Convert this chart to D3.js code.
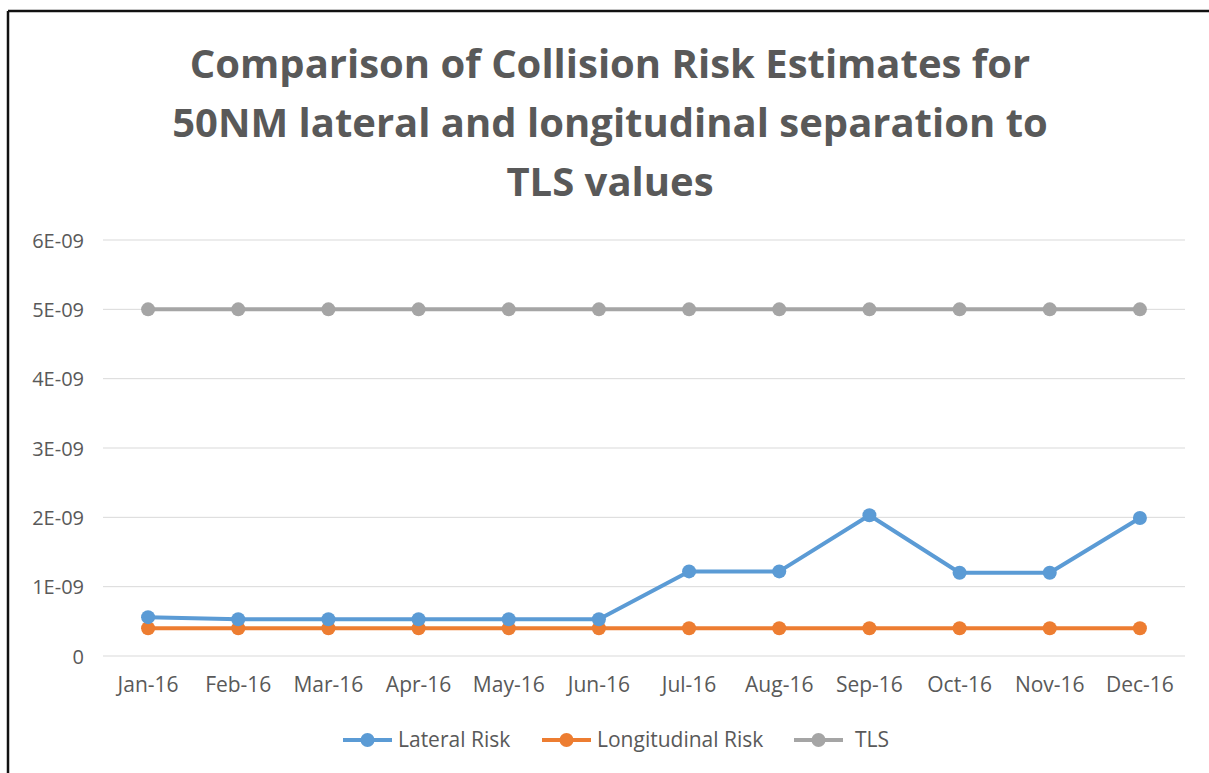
<!DOCTYPE html>
<html>
<head>
<meta charset="utf-8">
<title>Collision Risk Estimates</title>
<script src="https://cdn.jsdelivr.net/npm/d3@7"></script>
<style>
  body { margin: 0; background: #fff; }
  text { font-family: "Open Sans", "Liberation Sans", sans-serif; fill: #595959; }
</style>
</head>
<body>
<svg width="1209" height="773"></svg>
<script>
// data
var months = ["Jan-16","Feb-16","Mar-16","Apr-16","May-16","Jun-16","Jul-16","Aug-16","Sep-16","Oct-16","Nov-16","Dec-16"];
var lateralRisk = [0.56e-9,0.53e-9,0.53e-9,0.53e-9,0.53e-9,0.53e-9,1.22e-9,1.22e-9,2.03e-9,1.2e-9,1.2e-9,1.99e-9];
var longitudinalRisk = [0.4e-9,0.4e-9,0.4e-9,0.4e-9,0.4e-9,0.4e-9,0.4e-9,0.4e-9,0.4e-9,0.4e-9,0.4e-9,0.4e-9];
var tls = [5e-9,5e-9,5e-9,5e-9,5e-9,5e-9,5e-9,5e-9,5e-9,5e-9,5e-9,5e-9];
var yTicks = [0,1e-9,2e-9,3e-9,4e-9,5e-9,6e-9];
var yTickLabels = ["0","1E-09","2E-09","3E-09","4E-09","5E-09","6E-09"];
var titleLines = ["Comparison of Collision Risk Estimates for","50NM lateral and longitudinal separation to","TLS values"];

var series = [
  {name: "Lateral Risk", values: lateralRisk, color: "#5b9bd5"},
  {name: "Longitudinal Risk", values: longitudinalRisk, color: "#ed7d31"},
  {name: "TLS", values: tls, color: "#a5a5a5"}
];

var svg = d3.select("svg");

// frame (only top and left edges show in the picture)
svg.append("line").attr("x1", 8).attr("y1", 11).attr("x2", 1209).attr("y2", 11)
   .attr("stroke", "#111").attr("stroke-width", 2.5);
svg.append("line").attr("x1", 8).attr("y1", 11).attr("x2", 8).attr("y2", 773)
   .attr("stroke", "#111").attr("stroke-width", 2.5);

// title
svg.append("g").selectAll("text")
  .data(titleLines)
  .enter().append("text")
    .attr("x", 610)
    .attr("y", function(d, i) { return 78 + i * 59; })
    .attr("text-anchor", "middle")
    .style("font-size", "40px")
    .style("font-weight", "bold")
    .text(function(d) { return d; });

var x = d3.scaleBand().domain(months).range([103, 1185]);
var y = d3.scaleLinear().domain([0, 6e-9]).range([656, 240]);

// gridlines
svg.append("g").selectAll("line")
  .data(yTicks)
  .enter().append("line")
    .attr("x1", 103).attr("x2", 1185)
    .attr("y1", function(d) { return y(d); })
    .attr("y2", function(d) { return y(d); })
    .attr("stroke", "#d9d9d9").attr("stroke-width", 1);

// y axis labels
var yAxis = d3.axisLeft(y).tickValues(yTicks)
  .tickFormat(function(d, i) { return yTickLabels[i]; })
  .tickSize(0).tickPadding(0);
var gy = svg.append("g").attr("transform", "translate(84,0)").call(yAxis);
gy.select(".domain").remove();
gy.selectAll("text").attr("dy", "0.35em")
  .style("font-size", "20px").style("fill", "#595959")
  .style("font-family", "'Open Sans', sans-serif");

// x axis labels
var xAxis = d3.axisBottom(x).tickSize(0).tickPadding(0);
var gx = svg.append("g").attr("transform", "translate(0,677)").call(xAxis);
gx.select(".domain").remove();
gx.selectAll("text").attr("dy", "0.71em")
  .style("font-size", "21px").style("fill", "#595959")
  .style("font-family", "'Open Sans', sans-serif");

var line = d3.line()
  .x(function(d, i) { return x(months[i]) + x.bandwidth() / 2; })
  .y(function(d) { return y(d); });

// draw TLS first, then longitudinal, then lateral on top
var order = [series[2], series[1], series[0]];
order.forEach(function(s) {
  svg.append("path")
    .datum(s.values)
    .attr("d", line)
    .attr("fill", "none")
    .attr("stroke", s.color)
    .attr("stroke-width", 4)
    .attr("stroke-linejoin", "round");
  svg.append("g").selectAll("circle")
    .data(s.values)
    .enter().append("circle")
      .attr("cx", function(d, i) { return x(months[i]) + x.bandwidth() / 2; })
      .attr("cy", function(d) { return y(d); })
      .attr("r", 7)
      .attr("fill", s.color);
});

// legend
var legendX = [343, 542, 794];
var legend = svg.append("g").selectAll("g")
  .data(series)
  .enter().append("g")
    .attr("transform", function(d, i) { return "translate(" + legendX[i] + ",740)"; });
legend.append("line")
  .attr("x1", 0).attr("x2", 49).attr("y1", 0).attr("y2", 0)
  .attr("stroke", function(d) { return d.color; }).attr("stroke-width", 4);
legend.append("circle")
  .attr("cx", 24.5).attr("cy", 0).attr("r", 7)
  .attr("fill", function(d) { return d.color; });
legend.append("text")
  .attr("x", function(d, i) { return i == 2 ? 61 : 55; })
  .attr("y", 0).attr("dy", "0.35em")
  .style("font-size", "21px")
  .text(function(d) { return d.name; });
</script>
</body>
</html>
